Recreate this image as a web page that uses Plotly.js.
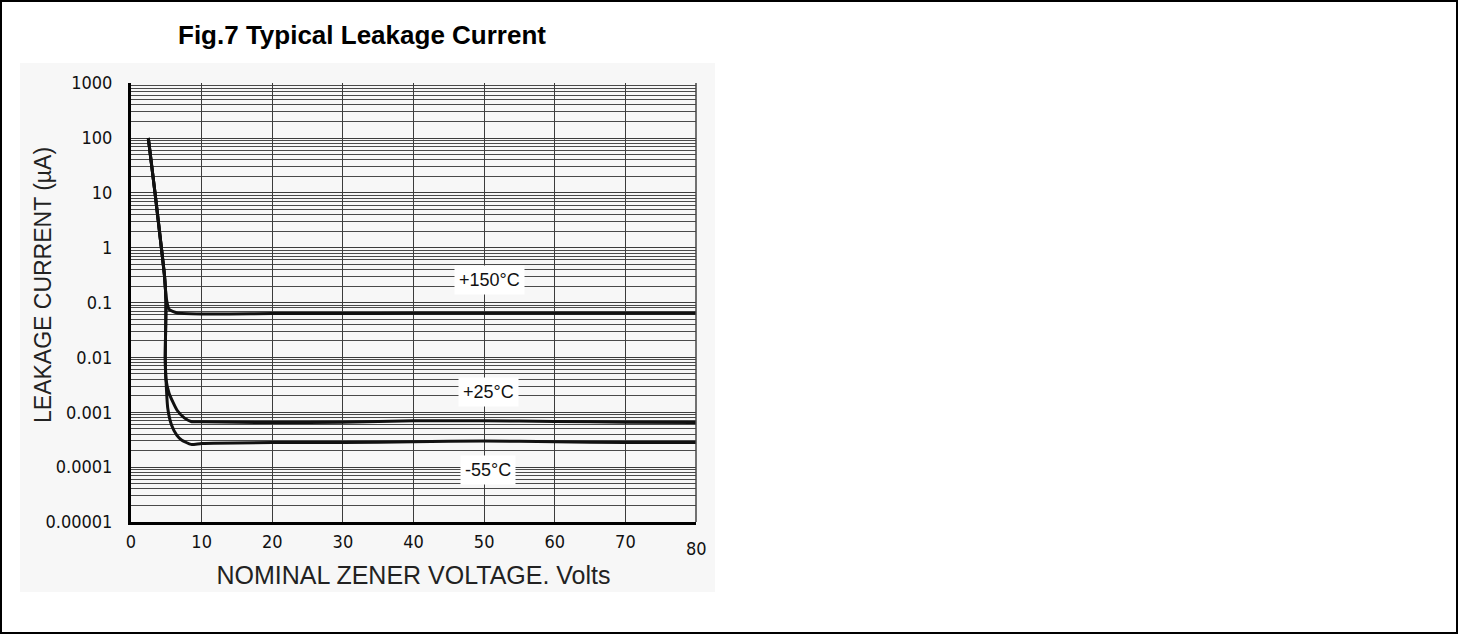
<!DOCTYPE html>
<html>
<head>
<meta charset="utf-8">
<script src="https://cdn.plot.ly/plotly-3.0.1.min.js"></script>
<style>
  html, body { margin: 0; padding: 0; background: #ffffff; }
  #wrap { position: relative; width: 1458px; height: 634px; }
  #chart { width: 1458px; height: 634px; }
  #frame { position: absolute; left: 0; top: 0; width: 1458px; height: 634px;
           box-sizing: border-box; border: 2px solid #000; pointer-events: none; }
</style>
</head>
<body>
<div id="wrap">
  <div id="chart"></div>
  <div id="frame"></div>
</div>
<script>
// Axis ticks (the last x label, 80, is placed separately a little lower)
const xTickVals = [0, 10, 20, 30, 40, 50, 60, 70];
const xTickText = ['0', '10', '20', '30', '40', '50', '60', '70'];
const xLastTick = 80;
const yTickVals = [0.00001, 0.0001, 0.001, 0.01, 0.1, 1, 10, 100, 1000];
const yTickText = ['0.00001', '0.0001', '0.001', '0.01', '0.1', '1', '10', '100', '1000'];

// Leakage current (uA) vs nominal zener voltage (V) for each temperature
const v150 = [2.45, 3.4, 4.3, 4.75, 5.0, 5.4, 6.5, 10, 20, 30, 40, 50, 60, 70, 80];
const i150 = [100, 10, 1, 0.3, 0.12, 0.075, 0.065, 0.062, 0.063, 0.063, 0.064, 0.064, 0.064, 0.064, 0.064];

const v25 = [2.45, 3.4, 4.3, 4.75, 4.95, 4.9, 4.85, 4.95, 5.4, 6.5, 7.5, 8.5, 10, 20, 30, 40, 50, 60, 70, 80];
const i25 = [100, 10, 1, 0.3, 0.1, 0.03, 0.01, 0.004, 0.0022, 0.0011, 0.0008, 0.00068, 0.00067, 0.00065, 0.00066, 0.0007, 0.0007, 0.00068, 0.00066, 0.00065];

const vm55 = [2.45, 3.4, 4.3, 4.75, 4.95, 4.9, 4.85, 4.95, 5.2, 5.75, 6.5, 7.2, 8.5, 10, 20, 30, 40, 50, 60, 70, 80];
const im55 = [100, 10, 1, 0.3, 0.1, 0.03, 0.01, 0.004, 0.0012, 0.00058, 0.00038, 0.00031, 0.00026, 0.00027, 0.00028, 0.00028, 0.00029, 0.0003, 0.00029, 0.00028, 0.00028];

// Curve labels
const labelText = ['+150°C', '+25°C', '-55°C'];
const labelX = [50.8, 50.6, 50.6];
const labelY = [0.257, 0.0023, 0.00009];

// Log minor grid: 2..9 within each decade
const minorVals = [];
for (let d = -5; d < 3; d++) {
  for (let m = 2; m <= 9; m++) minorVals.push(m * Math.pow(10, d));
}

const curveLine = { color: '#111111', width: 3, shape: 'spline', smoothing: 0.5 };
const traces = [
  { x: v150, y: i150, name: '+150°C', mode: 'lines', line: curveLine },
  { x: v25, y: i25, name: '+25°C', mode: 'lines', line: curveLine },
  { x: vm55, y: im55, name: '-55°C', mode: 'lines', line: curveLine }
];

const tickFont = { family: '"Liberation Sans Narrow", "Arial Narrow", "DejaVu Sans Condensed", sans-serif', size: 18, color: '#111' };
const textFont = { family: '"Liberation Sans", Arial, sans-serif', color: '#111' };

const L = 131, R = 696, T = 83, B = 522, W = 1458, H = 634;
const px = v => (v - L) / (R - L);
const py = v => (B - v) / (B - T);

const annotations = labelText.map((t, k) => ({
  x: labelX[k], y: Math.log10(labelY[k]), xref: 'x', yref: 'y',
  text: t, showarrow: false, bgcolor: '#ffffff', borderpad: 4,
  font: Object.assign({}, textFont, { size: 18 })
}));
annotations.push({
  x: xLastTick, y: 0, xref: 'x', yref: 'paper', yanchor: 'top', yshift: -14,
  text: String(xLastTick), showarrow: false, font: tickFont
});
// Vertical axis title
annotations.push({
  x: px(43), y: py(285), xref: 'paper', yref: 'paper', xanchor: 'center', yanchor: 'middle',
  text: 'LEAKAGE CURRENT (µA)', textangle: -90, showarrow: false,
  font: Object.assign({}, textFont, { size: 23, color: '#222' })
});

const layout = {
  width: W, height: H,
  margin: { l: L, r: W - R, t: T, b: H - B, pad: 0 },
  paper_bgcolor: '#ffffff',
  plot_bgcolor: '#ffffff',
  showlegend: false,
  title: {
    text: '<b>Fig.7 Typical Leakage Current</b>',
    font: Object.assign({}, textFont, { size: 26, color: '#000' }),
    x: 178 / W, xanchor: 'left', y: 1 - 35 / H, yanchor: 'middle'
  },
  xaxis: {
    type: 'linear', range: [0, 80],
    tickmode: 'array', tickvals: xTickVals, ticktext: xTickText,
    ticks: '', ticklabelstandoff: 1,
    showgrid: true, gridcolor: '#3c3c3c', gridwidth: 1,
    zeroline: false, showline: true, linecolor: '#000', linewidth: 3,
    tickfont: tickFont,
    title: { text: 'NOMINAL ZENER VOLTAGE. Volts', font: Object.assign({}, textFont, { size: 25, color: '#222' }), standoff: 16 }
  },
  yaxis: {
    type: 'log', range: [-5, 3.003],
    tickmode: 'array', tickvals: yTickVals, ticktext: yTickText,
    ticks: '', ticklabelstandoff: 12,
    showgrid: true, gridcolor: '#3c3c3c', gridwidth: 1,
    minor: { tickmode: 'array', tickvals: minorVals, showgrid: true, gridcolor: '#4a4a4a', gridwidth: 1, ticks: '' },
    zeroline: false, showline: true, linecolor: '#000', linewidth: 3,
    tickfont: tickFont
  },
  annotations: annotations,
  shapes: [
    // light backdrop behind the graph
    { type: 'rect', xref: 'paper', yref: 'paper', x0: px(20), x1: px(715), y0: py(592), y1: py(63),
      fillcolor: '#f7f7f7', line: { width: 0 }, layer: 'below' },
    // right border of the grid
    { type: 'line', xref: 'paper', yref: 'paper', x0: 1, x1: 1, y0: 0, y1: 1,
      line: { color: '#444', width: 1.5 } },
    // small red mark beside the +25°C label
    { type: 'line', xref: 'x', yref: 'y', x0: 55.5, x1: 55.5, y0: Math.log10(0.0044), y1: Math.log10(0.00155),
      line: { color: '#f08a8a', width: 1.5 } }
  ]
};

Plotly.newPlot('chart', traces, layout, { staticPlot: true, displayModeBar: false });
</script>
</body>
</html>
